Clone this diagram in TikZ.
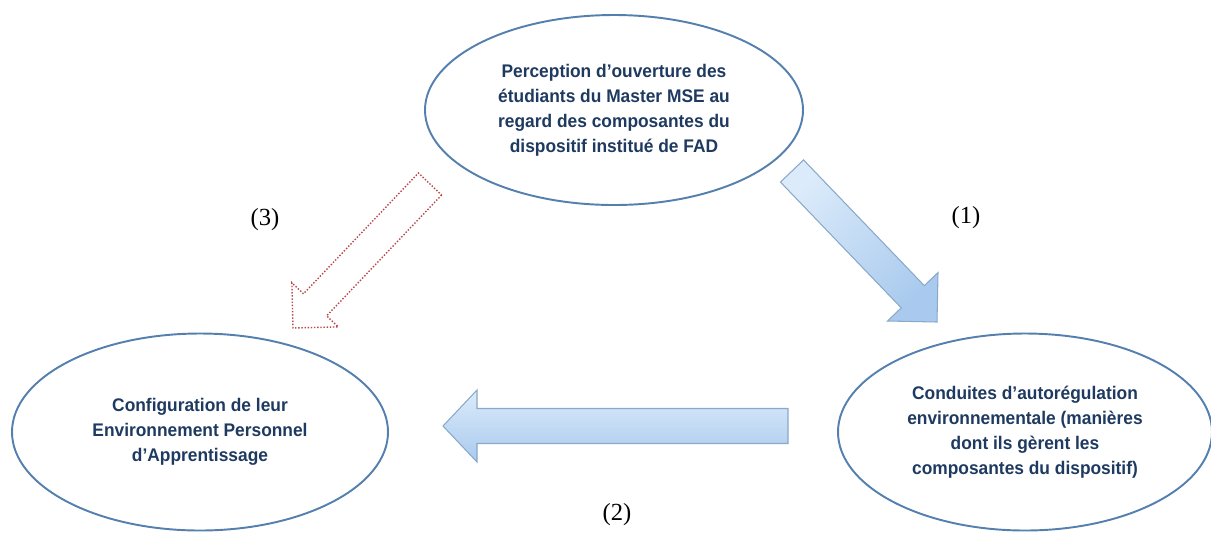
\documentclass[tikz,border=0pt]{standalone}
\usepackage{fontspec}
\setmainfont{Liberation Serif}
\newfontfamily\ovalfont[FakeStretch=0.95]{Liberation Sans}
\usetikzlibrary{calc}
\usetikzlibrary{shapes.geometric}

\definecolor{ovalblue}{HTML}{5580AE}
\definecolor{textnavy}{HTML}{1F3A60}
\definecolor{arrowlight}{HTML}{DCEBFA}
\definecolor{arrowdark}{HTML}{A9CAEE}
\definecolor{arrowedge}{HTML}{8AA8CA}
\definecolor{dotred}{HTML}{B8474B}

\tikzset{
	oval/.style={ellipse, draw=ovalblue, line width=1.1pt, inner sep=0pt, align=center,
		text=textnavy, font=\ovalfont\bfseries\fontsize{10.4}{14.2}\selectfont},
	bluearrow/.style={draw=arrowedge, line width=0.6pt, top color=arrowlight, bottom color=arrowdark},
	dotarrow/.style={draw=dotred, densely dotted, line width=0.8pt, fill=white},
	numlabel/.style={font=\fontsize{14}{16}\selectfont}
}

% block arrow: style, tail, tip, shaft half width, head half width, head length
\newcommand{\blockarrow}[6]{%
	\coordinate (#2-#3) at ($(#3)!#6!(#2)$);
	\draw [#1] ($(#2)!#4!90:(#3)$) -- ($(#2-#3)!#4!90:(#3)$) -- ($(#2-#3)!#5!90:(#3)$) -- (#3)
		-- ($(#2-#3)!#5!-90:(#3)$) -- ($(#2-#3)!#4!-90:(#3)$) -- ($(#2)!#4!-90:(#3)$) -- cycle;
}

\begin{document}
\begin{tikzpicture}

	\useasboundingbox (0,0) rectangle (24.22,-10.64);

	% Ovals
	\node [oval, minimum width=7.56cm, minimum height=3.8cm] (perception) at (12.28,-2.2)
		{Perception d’ouverture des\\étudiants du Master MSE au\\regard des composantes du\\dispositif institué de FAD};
	\node [oval, minimum width=7.52cm, minimum height=3.94cm] (config) at (4.0,-8.64)
		{Configuration de leur\\Environnement Personnel\\d’Apprentissage};
	\node [oval, minimum width=7.48cm, minimum height=3.94cm] (conduites) at (20.5,-8.64)
		{Conduites d’autorégulation\\environnementale (manières\\dont ils gèrent les\\composantes du dispositif)};

	% Arrow ends
	\coordinate (tail1) at (15.84,-3.42);
	\coordinate (tip1) at (18.74,-6.44);
	\coordinate (tail2) at (15.76,-8.52);
	\coordinate (tip2) at (8.86,-8.52);
	\coordinate (tail3) at (8.6,-3.68);
	\coordinate (tip3) at (5.86,-6.56);

	% Arrows
	\blockarrow{bluearrow, shading angle=45}{tail1}{tip1}{0.32cm}{0.7cm}{0.7cm}
	\blockarrow{bluearrow}{tail2}{tip2}{0.35cm}{0.72cm}{0.68cm}
	\blockarrow{dotarrow}{tail3}{tip3}{0.32cm}{0.64cm}{0.64cm}

	% Labels
	\node [numlabel] (lab1) at (19.32,-4.36) {(1)};
	\node [numlabel] (lab2) at (12.34,-10.3) {(2)};
	\node [numlabel] (lab3) at (5.3,-4.4) {(3)};

\end{tikzpicture}
\end{document}
